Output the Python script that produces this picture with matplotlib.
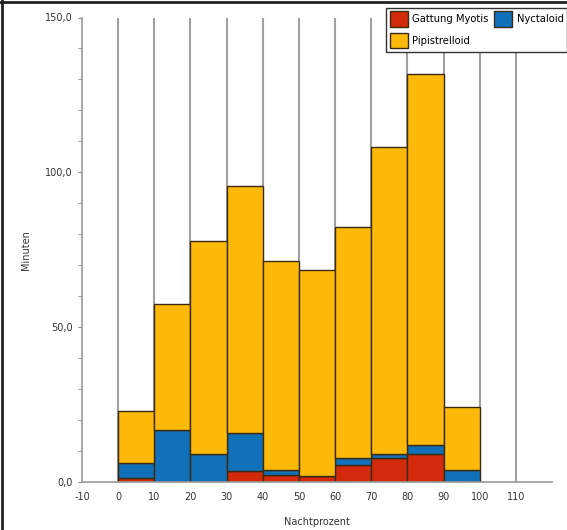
import matplotlib
matplotlib.use("Agg")
import matplotlib.pyplot as plt
from matplotlib.lines import Line2D

bins = [0, 10, 20, 30, 40, 50, 60, 70, 80, 90]
myotis = [1.3, 0.0, 0.0, 3.6, 2.1, 1.9, 5.5, 7.9, 9.0, 0.0]
nyctaloid = [4.7, 16.7, 9.0, 12.3, 1.8, 0.0, 2.1, 1.0, 3.1, 3.9]
pipistrelloid = [17.0, 40.9, 68.9, 79.7, 67.6, 66.7, 74.8, 99.2, 119.5, 20.2]
xticks = [-10, 0, 10, 20, 30, 40, 50, 60, 70, 80, 90, 100, 110]
yticks_major = [0, 50, 100, 150]

c_red = "#D42A0C"
c_blue = "#1170BA"
c_yel = "#FDB90A"
edge = "#3a2a10"

plt.rcParams['font.family'] = ['DejaVu Sans']
fig = plt.figure(figsize=(5.67, 5.30), dpi=100)
ax = fig.add_axes([82/567, 48/530, 470/567, 464.5/530])

for x in range(0, 111, 10):
    ax.axvline(x, color="#a0a0a0", lw=1.5, zorder=0)

b1 = ax.bar(bins, myotis, width=10, align='edge', color=c_red, edgecolor=edge, lw=1.0, zorder=2)
bottom2 = [m for m in myotis]
b2 = ax.bar(bins, nyctaloid, width=10, align='edge', bottom=bottom2, color=c_blue, edgecolor=edge, lw=1.0, zorder=2)
bottom3 = [m + n for m, n in zip(myotis, nyctaloid)]
b3 = ax.bar(bins, pipistrelloid, width=10, align='edge', bottom=bottom3, color=c_yel, edgecolor=edge, lw=1.0, zorder=2)

ax.set_xlim(-10, 120)
ax.set_ylim(0, 150)
ax.set_xticks(xticks)
ax.set_xticklabels([str(v) for v in xticks])
ax.set_yticks(yticks_major)
ax.set_yticklabels([f"{v:.1f}".replace('.', ',') for v in yticks_major])
ax.set_yticks(list(range(0, 151, 10)), minor=True)
ax.tick_params(axis='y', which='both', length=3, color='#888888', labelsize=7, labelcolor='#333333')
ax.tick_params(axis='x', length=0, labelsize=7, labelcolor='#333333', pad=7)
for s in ['top', 'right']:
    ax.spines[s].set_visible(False)
for s in ['left', 'bottom']:
    ax.spines[s].set_color('#999999')
    ax.spines[s].set_linewidth(1.2)

ax.set_xlabel("Nachtprozent", fontsize=7, color='#333333', labelpad=11)
ax.set_ylabel("Minuten", fontsize=7, color='#333333', labelpad=10)

leg = fig.legend([b1, b3, b2], ["Gattung Myotis", "Pipistrelloid", "Nyctaloid"],
                 loc='upper left', bbox_to_anchor=(381/567, 1 - 3/530), ncol=2,
                 fontsize=7.2, fancybox=False, edgecolor='#333333', framealpha=1,
                 handlelength=1.8, handleheight=2.0, handletextpad=0.45,
                 columnspacing=0.6, labelspacing=0.6, borderpad=0.35)
leg.get_frame().set_linewidth(1.0)

fig.add_artist(Line2D([0, 1], [1 - 1.5/530, 1 - 1.5/530], transform=fig.transFigure,
                      color='#222222', lw=2))
fig.add_artist(Line2D([1.5/567, 1.5/567], [0, 1], transform=fig.transFigure,
                      color='#222222', lw=2))

fig.savefig("out.png", dpi=100)
